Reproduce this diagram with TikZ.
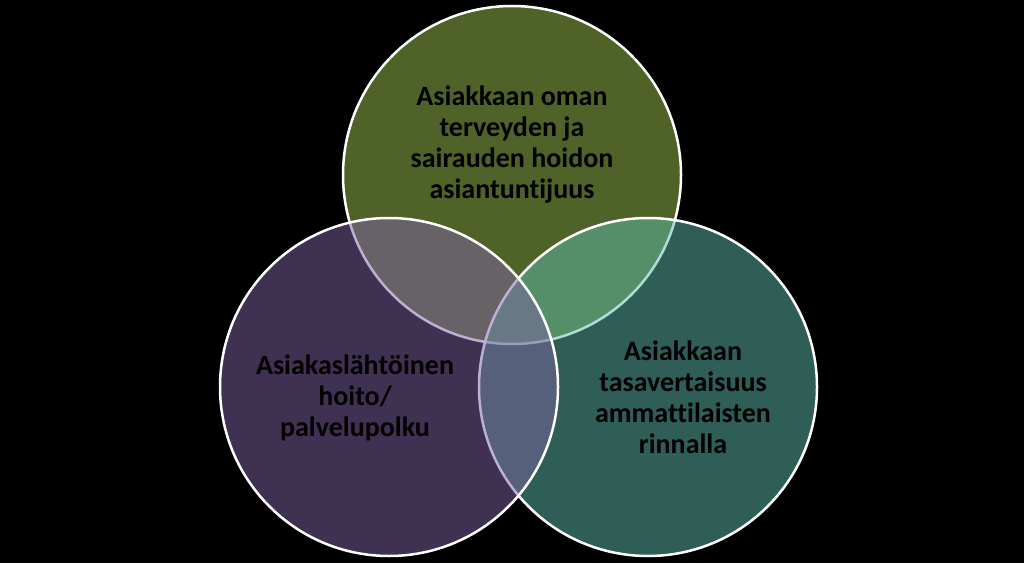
\documentclass[tikz,border=0pt]{standalone}
\usepackage{fontspec}
\setmainfont{Carlito}[Ligatures=NoCommon]
\usetikzlibrary{positioning}
\definecolor{vennolive}{HTML}{9EC450}
\definecolor{vennpurple}{HTML}{7E62A2}
\definecolor{vennteal}{HTML}{5CBCAA}
\tikzset{
	venn/.style={circle, draw=white, line width=2.5pt, fill opacity=0.5, minimum size=338pt, inner sep=0pt},
	venntext/.style={text=black, font=\fontsize{28}{31}\selectfont\bfseries, align=center}
}

\begin{document}
\begin{tikzpicture}[x=1pt,y=1pt]
		\fill[black] (0,0) rectangle (1024,563);
		\useasboundingbox (0,0) rectangle (1024,563);
		\node [venn, fill=vennolive] (C1) at (512,388) {};
		\node [venn, fill=vennteal] (C3) at (648,176) {};
		\node [venn, fill=vennpurple] (C2) at (389,176) {};
		\node [venntext] (T1) at (512,418) {
			Asiakkaan oman\\terveyden ja\\sairauden hoidon\\asiantuntijuus
		};
		\node [venntext] (T2) at (355,165) {
			Asiakaslähtöinen\\hoito/\\palvelupolku
		};
		\node [venntext] (T3) at (683,166) {
			Asiakkaan\\tasavertaisuus\\ammattilaisten\\rinnalla
		};
	\end{tikzpicture}
\end{document}
